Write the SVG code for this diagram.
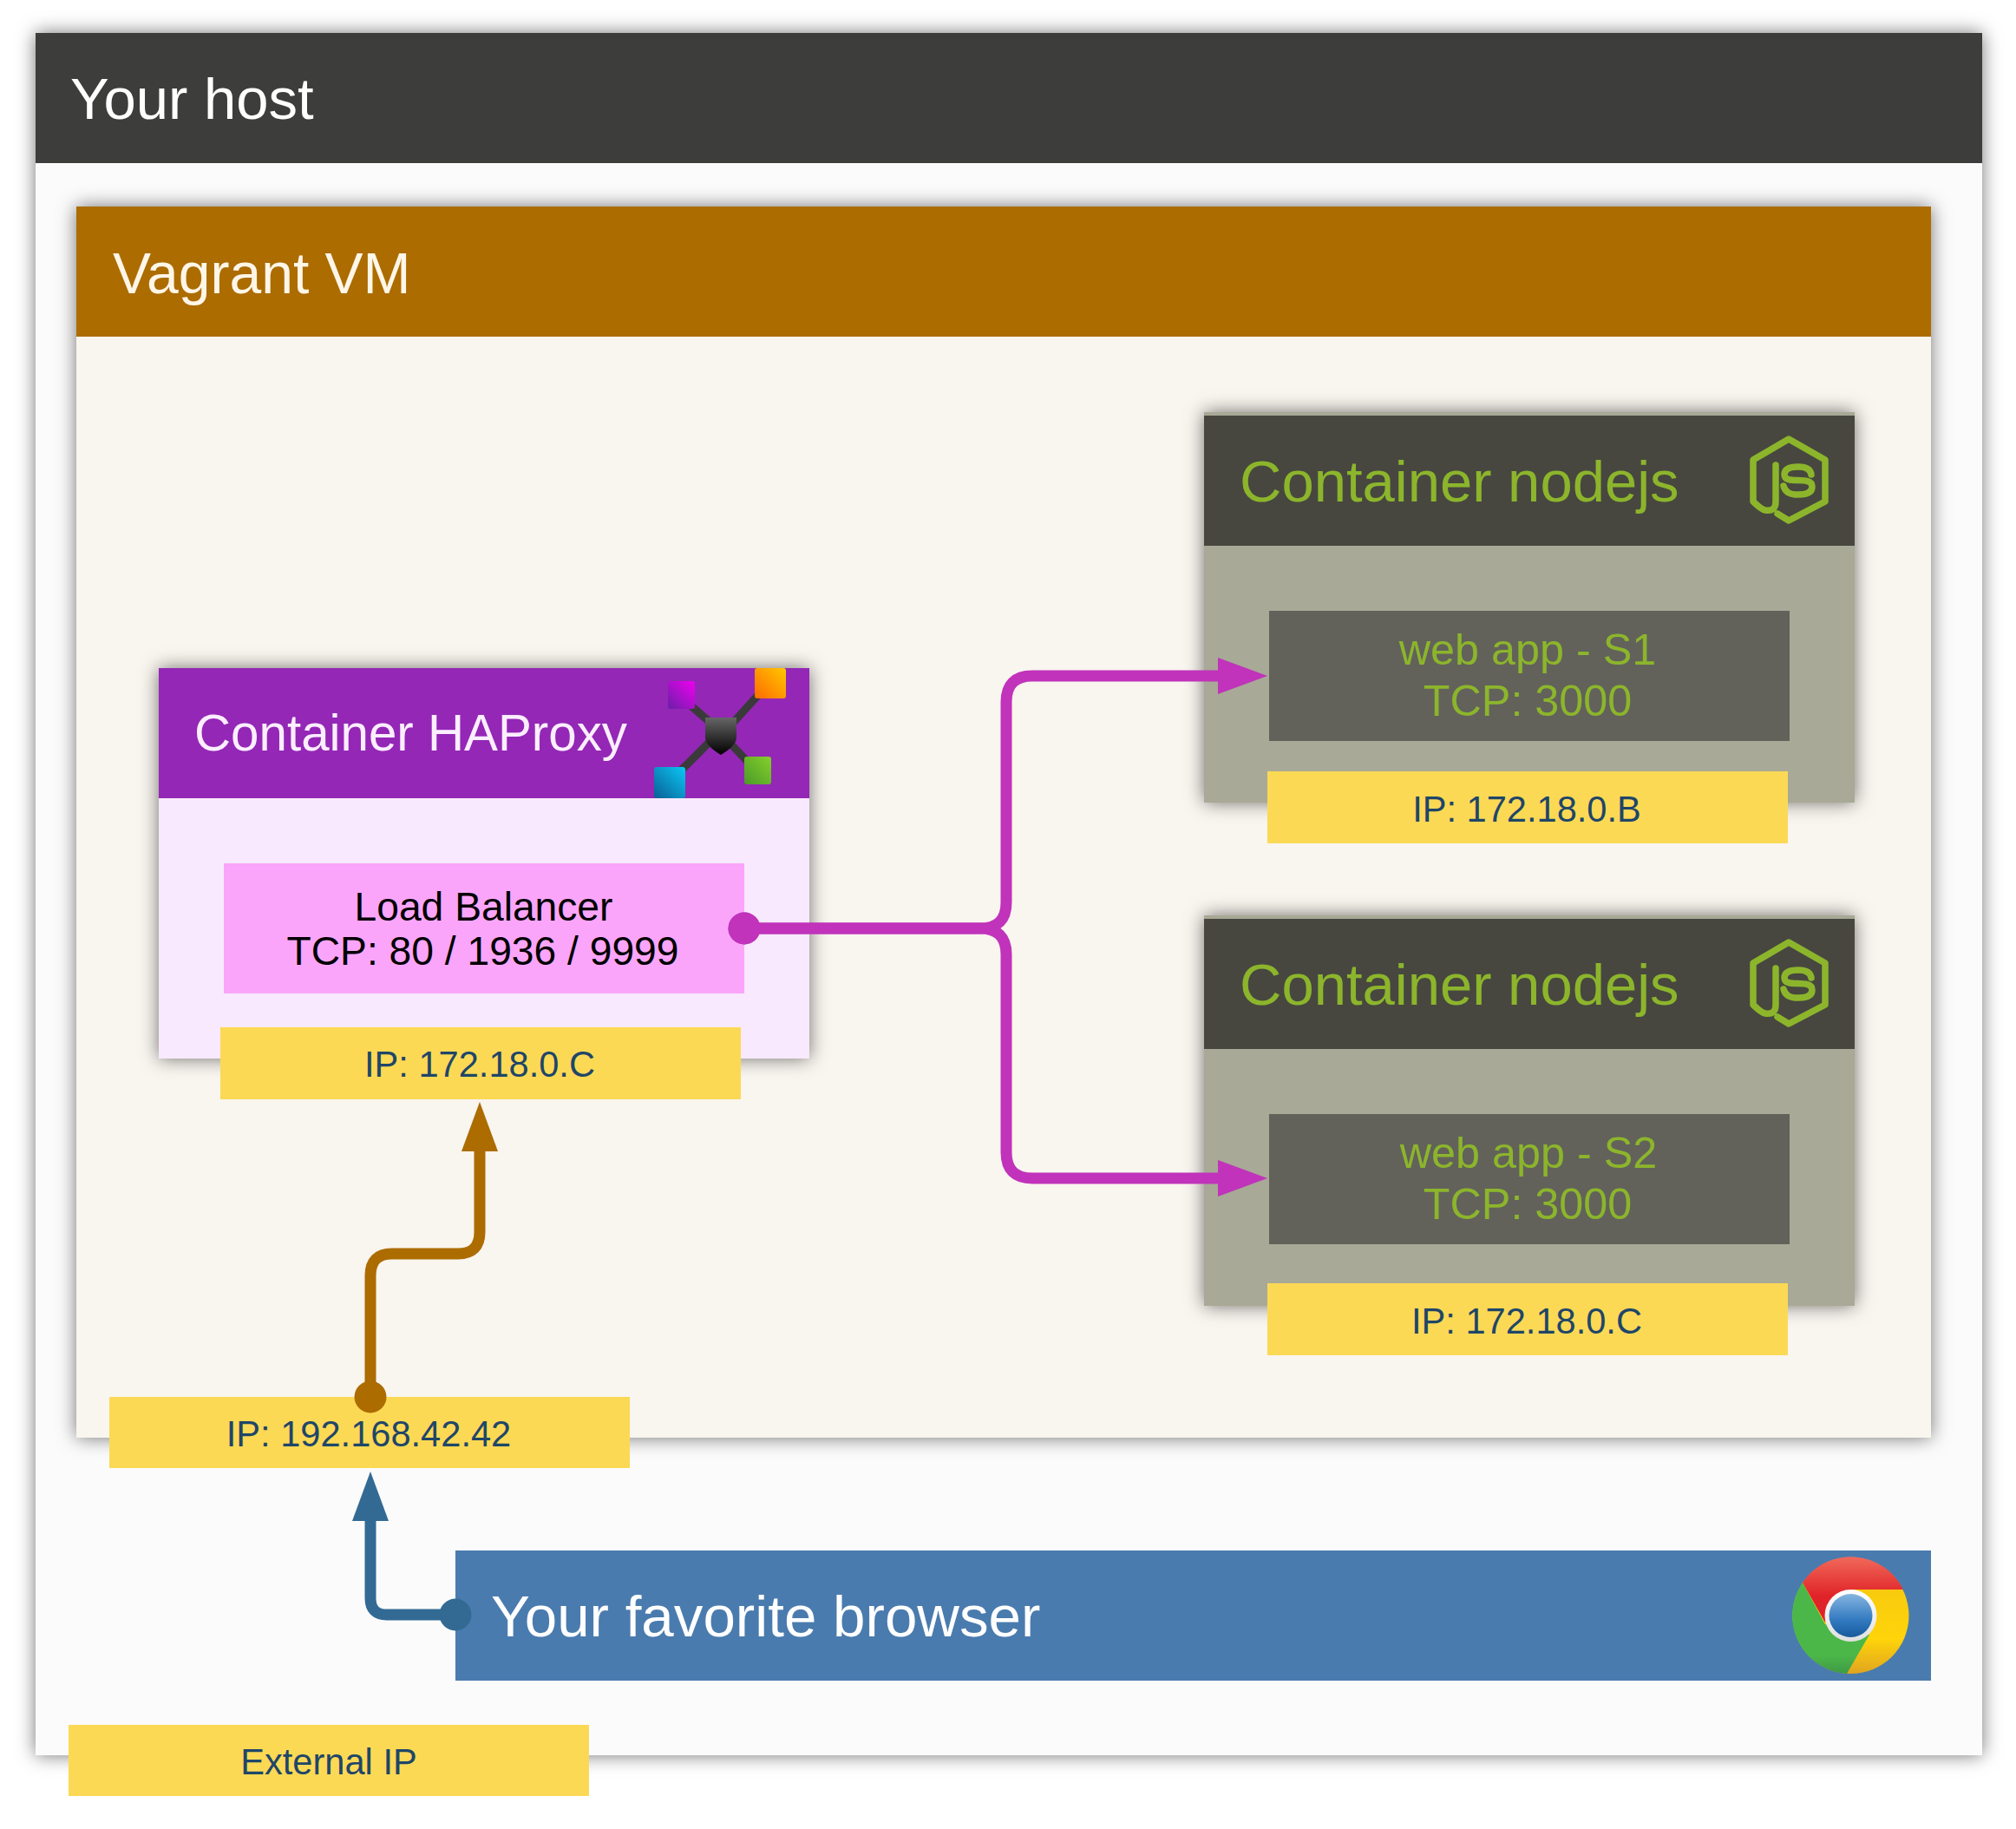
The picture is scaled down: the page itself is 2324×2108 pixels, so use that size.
<svg xmlns="http://www.w3.org/2000/svg" width="2324" height="2108" viewBox="0 0 2324 2108">
<style>
text{font-family:"Liberation Sans",Arial,sans-serif}
.t66{font-size:67px}.t58{font-size:58.300px}.t50{font-size:50.300px;text-anchor:middle;fill:#8cb52c}.t46{font-size:46.200px;text-anchor:middle;fill:#000}
.ip{font-size:41.600px;text-anchor:middle;fill:#1f4668}
.iprect{fill:#fcd955}
.green{fill:#8cb52c}
.shadow{filter:url(#sh)}
.conn{fill:none;stroke-width:13}
.js{fill:none;stroke:#8cb52c;stroke-width:7.500;stroke-linejoin:round;stroke-linecap:round}
.arm{stroke:#3a3a3a;stroke-width:9;fill:none}
</style>
<defs>
<filter id="sh" x="-10%" y="-10%" width="120%" height="120%"><feDropShadow dx="0" dy="0" stdDeviation="10.500" flood-color="#000" flood-opacity=".55"/></filter>
<linearGradient id="gm" x1="0" y1="1" x2="1" y2="0"><stop offset="0" stop-color="#6a1fa8"/><stop offset="1" stop-color="#f000f0"/></linearGradient>
<linearGradient id="go" x1="0" y1="1" x2="1" y2="0"><stop offset="0" stop-color="#ff6a00"/><stop offset="1" stop-color="#ffc800"/></linearGradient>
<linearGradient id="gb" x1="0" y1="1" x2="1" y2="0"><stop offset="0" stop-color="#0a5f95"/><stop offset="1" stop-color="#0ac8f5"/></linearGradient>
<linearGradient id="gg" x1="0" y1="1" x2="1" y2="0"><stop offset="0" stop-color="#4c9a2a"/><stop offset="1" stop-color="#84d02a"/></linearGradient>
<linearGradient id="gs" x1="0" y1="0" x2="0" y2="1"><stop offset="0" stop-color="#666"/><stop offset="1" stop-color="#000"/></linearGradient>
<linearGradient id="cr" x1="0" y1="0" x2="0" y2="1"><stop offset="0" stop-color="#f0695a"/><stop offset=".6" stop-color="#e02328"/></linearGradient>
<linearGradient id="cy" x1="0" y1="0" x2="0" y2="1"><stop offset="0" stop-color="#f3c411"/><stop offset=".7" stop-color="#ffd40a"/><stop offset="1" stop-color="#e0a520"/></linearGradient>
<linearGradient id="cg" x1="0" y1="0" x2="0" y2="1"><stop offset="0" stop-color="#4cb749"/><stop offset=".8" stop-color="#4cb749"/><stop offset="1" stop-color="#3f9a45"/></linearGradient>
<linearGradient id="cb" x1="0" y1="0" x2="0" y2="1"><stop offset="0" stop-color="#86b5e0"/><stop offset=".6" stop-color="#327ac0"/><stop offset="1" stop-color="#175a9c"/></linearGradient>
<linearGradient id="cw" x1="0" y1="0" x2="0" y2="1"><stop offset="0" stop-color="#fff"/><stop offset="1" stop-color="#e0e0e0"/></linearGradient>
<marker id="ab" markerUnits="userSpaceOnUse" markerWidth="58" markerHeight="44" refX="1" refY="22" orient="auto"><path d="M0,1L57,22L0,43Z" fill="#ac6c00"/></marker>
<marker id="abl" markerUnits="userSpaceOnUse" markerWidth="58" markerHeight="44" refX="1" refY="22" orient="auto"><path d="M0,1L57,22L0,43Z" fill="#336a94"/></marker>
<marker id="am" markerUnits="userSpaceOnUse" markerWidth="58" markerHeight="44" refX="1" refY="22" orient="auto"><path d="M0,1L57,22L0,43Z" fill="#c033ba"/></marker>
<marker id="db" markerUnits="userSpaceOnUse" markerWidth="38" markerHeight="38" refX="19" refY="19"><circle cx="19" cy="19" r="18.500" fill="#ac6c00"/></marker>
<marker id="dbl" markerUnits="userSpaceOnUse" markerWidth="38" markerHeight="38" refX="19" refY="19"><circle cx="19" cy="19" r="18.500" fill="#336a94"/></marker>
<marker id="dm" markerUnits="userSpaceOnUse" markerWidth="38" markerHeight="38" refX="19" refY="19"><circle cx="19" cy="19" r="18.500" fill="#c033ba"/></marker>
<g id="jsicon"><path class="js" d="M2047,536V578Q2047,590 2035,588Q2030,587 2021,578V530L2062,506L2104,530V578L2062,600L2049,592"/><path class="js" d="M2088,547C2087,540 2081,538 2073,538C2063,538 2057,541 2057,547C2057,560 2089,547 2089,561C2089,567 2084,570 2073,570C2064,570 2058,568 2056,560"/></g>
</defs>
<rect width="2324" height="2108" fill="#fff"/>
<g id="host">
<rect class="shadow" x="41" y="38" width="2244" height="1985" fill="#fbfbfb"/>
<rect x="41" y="38" width="2244" height="150" fill="#3d3d3b"/>
<text class="t66" x="81" y="137" fill="#fff">Your host</text>
</g>
<g id="vm">
<rect class="shadow" x="88" y="238" width="2138" height="1419" fill="#f9f5ef"/>
<rect x="88" y="238" width="2138" height="150" fill="#ac6c00"/>
<text x="130" y="338" style="font-size:66px" fill="#fff6e8">Vagrant VM</text>
</g>
<g id="haproxy">
<rect class="shadow" x="183" y="770" width="750" height="450" fill="#f8e9fe"/>
<rect x="183" y="770" width="750" height="150" fill="#9427b6"/>
<text class="t58" x="224" y="865" fill="#fbeeff">Container HAProxy</text>
<g id="haproxy-icon">
<path class="arm" d="M795,812L818,832M875,800L846,832M785,888L817,856M862,878L843,858"/>
<rect x="770" y="785" width="31" height="32" rx="3" fill="url(#gm)"/>
<rect x="870" y="770" width="36" height="35" rx="3" fill="url(#go)"/>
<rect x="754" y="884" width="36" height="36" rx="3" fill="url(#gb)"/>
<rect x="858" y="872" width="31" height="32" rx="3" fill="url(#gg)"/>
<path d="M813,827H849V850C849,858 838,866 831,870C824,866 813,858 813,850Z" fill="url(#gs)"/>
</g>
</g>
<g id="lb">
<rect x="258" y="995" width="600" height="150" fill="#faa5fa"/>
<text class="t46" x="557.500" y="1061">Load Balancer</text>
<text class="t46" x="556.500" y="1112">TCP: 80 / 1936 / 9999</text>
</g>
<g id="ip-haproxy"><rect class="iprect" x="254" y="1184" width="600" height="83"/><text class="ip" x="553" y="1241">IP: 172.18.0.C</text></g>
<g id="node1">
<rect class="shadow" x="1388" y="475" width="750" height="450" fill="#a8a996"/>
<rect x="1388" y="479" width="750" height="150" fill="#47473f"/>
<text class="t66 green" x="1429" y="578">Container nodejs</text>
<use href="#jsicon"/>
</g>
<g id="s1">
<rect x="1463" y="704" width="600" height="150" fill="#62625a"/>
<text class="t50" x="1761" y="766">web app - S1</text>
<text class="t50" x="1761" y="825">TCP: 3000</text>
</g>
<g id="ip-s1"><rect class="iprect" x="1461" y="889" width="600" height="83"/><text class="ip" x="1760" y="947">IP: 172.18.0.B</text></g>
<g id="node2">
<rect class="shadow" x="1388" y="1055" width="750" height="450" fill="#a8a996"/>
<rect x="1388" y="1059" width="750" height="150" fill="#47473f"/>
<text class="t66 green" x="1429" y="1158">Container nodejs</text>
<use href="#jsicon" y="580"/>
</g>
<g id="s2">
<rect x="1463" y="1284" width="600" height="150" fill="#62625a"/>
<text class="t50" x="1762" y="1346">web app - S2</text>
<text class="t50" x="1761" y="1405">TCP: 3000</text>
</g>
<g id="ip-s2"><rect class="iprect" x="1461" y="1479" width="600" height="83"/><text class="ip" x="1760" y="1537">IP: 172.18.0.C</text></g>
<g id="ip-vm"><rect class="iprect" x="126" y="1610" width="600" height="82"/><text class="ip" x="425" y="1667">IP: 192.168.42.42</text></g>
<g id="browser">
<rect x="525" y="1787" width="1701" height="150" fill="#4a7bae"/>
<text x="566" y="1886" style="font-size:67.300px" fill="#fff">Your favorite browser</text>
<g id="chrome-icon">
<circle cx="2133.500" cy="1862" r="67" fill="url(#cy)"/>
<path d="M2078,1824A67,67 0 0 0 2129,1929L2155,1884L2104,1872Z" fill="url(#cg)"/>
<path d="M2078,1824A67,67 0 0 1 2194,1832H2133L2104,1870Z" fill="url(#cr)"/>
<circle cx="2133.500" cy="1862" r="30" fill="url(#cw)"/>
<circle cx="2133.500" cy="1862" r="25" fill="url(#cb)"/>
</g>
</g>
<g id="ip-ext"><rect class="iprect" x="79" y="1988" width="600" height="82"/><text class="ip" x="379" y="2045">External IP</text></g>
<g id="connectors">
<path class="conn" stroke="#ac6c00" marker-start="url(#db)" marker-end="url(#ab)" d="M427,1610V1470Q427,1445 452,1445H528Q553,1445 553,1420V1326"/>
<path class="conn" stroke="#336a94" marker-start="url(#dbl)" marker-end="url(#abl)" d="M525,1861H446Q427,1861 427,1842V1752"/>
<path class="conn" stroke="#c033ba" marker-start="url(#dm)" marker-end="url(#am)" d="M858,1070H1130Q1160,1070 1160,1040V809Q1160,779 1190,779H1405"/>
<path class="conn" stroke="#c033ba" marker-start="url(#dm)" marker-end="url(#am)" d="M858,1070H1130Q1160,1070 1160,1100V1328Q1160,1358 1190,1358H1405"/>
</g>
</svg>
